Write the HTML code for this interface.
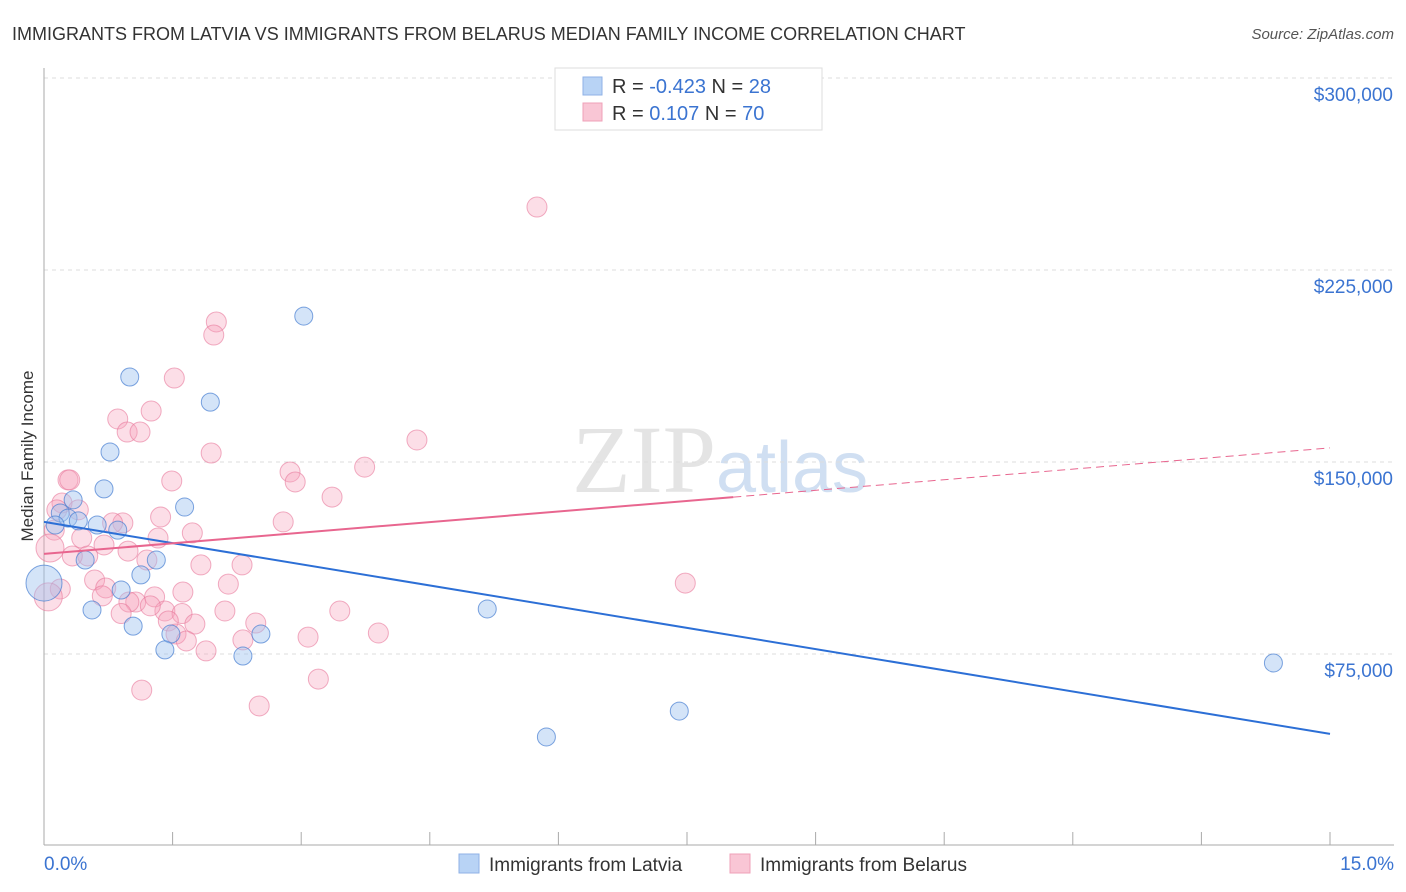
<!DOCTYPE html>
<html><head><meta charset="utf-8"><style>
body{margin:0;background:#fff;font-family:"Liberation Sans",sans-serif;}
svg{display:block}
</style></head><body>
<svg id="chart" width="1406" height="892" xmlns="http://www.w3.org/2000/svg" font-family="Liberation Sans, sans-serif">
<text x="12" y="40" font-size="18" fill="#333">IMMIGRANTS FROM LATVIA VS IMMIGRANTS FROM BELARUS MEDIAN FAMILY INCOME CORRELATION CHART</text>
<text x="1394" y="39" font-size="15" fill="#555" text-anchor="end" font-style="italic">Source: ZipAtlas.com</text>
<text transform="translate(33,456) rotate(-90)" font-size="17" fill="#333" text-anchor="middle">Median Family Income</text>
<text x="720" y="492" font-size="96" fill="#e4e4e4" text-anchor="middle" font-family="Liberation Serif, serif">ZIP<tspan fill="#d0dff2" font-family="Liberation Sans, sans-serif" font-size="72">atlas</tspan></text>
<g id="grid"></g><g id="axes"></g><g id="marks"></g><g id="lines"></g>
<g>
<rect x="555" y="68" width="267" height="62" fill="#fff" stroke="#ddd"/>
<rect x="583" y="77" width="19" height="18" fill="#b8d3f5" stroke="#8fb2e6"/>
<rect x="583" y="103" width="19" height="18" fill="#f9c6d5" stroke="#efa0b8"/>
<text x="612" y="93" font-size="20" fill="#333">R = <tspan fill="#3b74d1">-0.423</tspan>   N = <tspan fill="#3b74d1">28</tspan></text>
<text x="612" y="120" font-size="20" fill="#333">R =   <tspan fill="#3b74d1">0.107</tspan>   N = <tspan fill="#3b74d1">70</tspan></text>
</g>
<g>
<rect x="459" y="854" width="20" height="19" fill="#b8d3f5" stroke="#8fb2e6"/>
<text x="489" y="871" font-size="19" fill="#333">Immigrants from Latvia</text>
<rect x="730" y="854" width="20" height="19" fill="#f9c6d5" stroke="#efa0b8"/>
<text x="760" y="871" font-size="19" fill="#333">Immigrants from Belarus</text>
</g>
</svg>
<script>
const yTicks=[75000,150000,225000,300000];
const yTickLabels=["$75,000","$150,000","$225,000","$300,000"];
const xTickLabels=["0.0%","15.0%"];
const latviaX=[3.03,1.00,1.94,0.77,0.70,0.34,1.64,0.19,0.28,0.62,0.13,0.86,0.48,1.31,1.13,0.0,0.90,0.56,5.17,1.04,1.48,2.53,1.41,2.32,7.41,5.86,14.34,0.40];
const latviaY=[207,183.2,173.4,153.9,139.5,135.2,132.4,130.1,128.1,125.4,125.4,123.4,111.7,111.7,105.9,102.7,100,92.2,92.6,85.9,82.8,82.8,76.6,74.2,52.7,42.6,71.5,127];
const belarusX=[5.75,2.01,1.98,1.52,1.25,0.86,0.97,1.12,4.35,1.95,3.74,2.87,2.93,0.28,0.30,1.49,3.36,0.21,0.40,0.15,1.36,2.79,0.92,0.80,0.12,1.73,1.33,0.44,0.70,0.07,0.98,0.51,0.33,1.20,1.83,2.31,0.59,2.15,0.72,0.19,0.05,1.62,0.68,1.29,3.45,2.11,1.07,0.99,1.41,0.90,1.61,1.24,1.45,1.76,2.47,3.90,3.08,1.54,2.32,1.66,1.89,7.48,1.14,3.20,2.51];
const belarusY=[249.6,204.7,199.6,182.8,169.9,166.8,161.7,161.7,158.6,153.5,148,146.1,142.2,143,143,142.6,136.3,134,131.3,131.3,128.5,126.6,126.2,126.2,123.4,122.3,120.3,120.3,117.6,116.4,115.2,113.3,113.3,111.7,109.8,109.8,103.9,102.3,100.8,100.4,97.3,99.2,97.7,97.3,91.8,91.8,95.3,95.3,91.8,90.8,90.8,93.8,87.9,86.7,87.1,83.2,81.6,82.8,80.5,80.1,76.2,102.7,60.9,65.2,54.7];
const latviaTrend=[126.6,43.8];
const belarusTrend=[114.1,155.5];
const belarusSolidEnd=8.04;
const NS="http://www.w3.org/2000/svg";
const X=p=>44+p/15*1286;
const Y=v=>654-(v-75000)*192/75000;
const Yk=k=>Y(k*1000);
function mk(tag,attrs,parent){const e=document.createElementNS(NS,tag);for(const k in attrs)e.setAttribute(k,attrs[k]);parent.appendChild(e);return e;}
const grid=document.getElementById('grid'),axes=document.getElementById('axes'),marks=document.getElementById('marks'),lines=document.getElementById('lines');
yTicks.forEach((t,i)=>{
 const g=mk('line',{x1:44,x2:1394,y1:Y(t),y2:Y(t),stroke:'#ddd','stroke-dasharray':'4,4'},grid);
 
 
 const l=mk('text',{x:1393,y:Y(t)+23,'font-size':19,fill:'#3b74d1','text-anchor':'end'},axes);
 l.textContent=yTickLabels[i];
 
 
});
const ax=mk('line',{x1:44,x2:44,y1:68,y2:845,stroke:'#aaa'},axes);


const bx=mk('line',{x1:44,x2:1394,y1:845,y2:845,stroke:'#aaa'},axes);


for(let i=0;i<=10;i++){
 const t=mk('line',{x1:X(i*1.5),x2:X(i*1.5),y1:832,y2:845,stroke:'#aaa'},axes);
 
 
}
[[0,'start'],[15,'end']].forEach((d,i)=>{
 const l=mk('text',{x:i?1394:44,y:870,'font-size':19,fill:'#3b74d1','text-anchor':d[1]},axes);
 l.textContent=xTickLabels[i];
 
 
});
belarusX.forEach((x,i)=>{
 const r=x<0.1?14:10;
 const c=mk('circle',{cx:X(x),cy:Yk(belarusY[i]),r:r,fill:'rgba(246,160,186,0.35)',stroke:'rgba(232,120,155,0.6)','stroke-width':1},marks);
 
 
});
latviaX.forEach((x,i)=>{
 const r=x===0?18:9;
 const c=mk('circle',{cx:X(x),cy:Yk(latviaY[i]),r:r,fill:'rgba(160,196,240,0.45)',stroke:'rgba(70,125,210,0.7)','stroke-width':1},marks);
 
 
});
const lt=mk('line',{x1:X(0),y1:Yk(latviaTrend[0]),x2:X(15),y2:Yk(latviaTrend[1]),stroke:'#2c6fd6','stroke-width':2},lines);


const bAt=p=>belarusTrend[0]+(belarusTrend[1]-belarusTrend[0])*p/15;
const bs=mk('line',{x1:X(0),y1:Yk(bAt(0)),x2:X(belarusSolidEnd),y2:Yk(bAt(belarusSolidEnd)),stroke:'#e8668f','stroke-width':2},lines);


const bd=mk('line',{x1:X(belarusSolidEnd),y1:Yk(bAt(belarusSolidEnd)),x2:X(15),y2:Yk(bAt(15)),stroke:'#e8668f','stroke-width':1,'stroke-dasharray':'8,5'},lines);


</script>
</body></html>
